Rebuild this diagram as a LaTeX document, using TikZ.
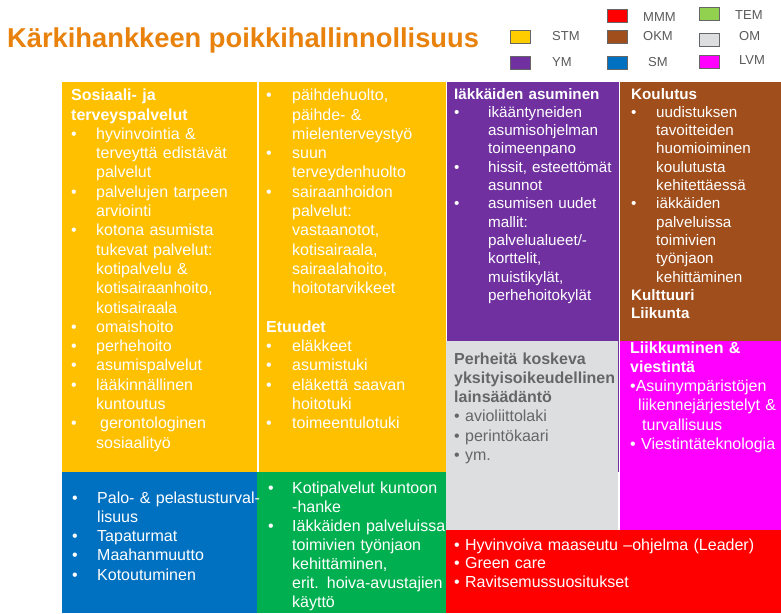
\documentclass[tikz,border=0pt]{standalone}
\usepackage{fontspec}
\setmainfont{Liberation Sans}
\usepackage{tikz}
\usetikzlibrary{positioning}

\definecolor{stm}{HTML}{FFC000}
\definecolor{stmkey}{HTML}{FFCC00}
\definecolor{ym}{HTML}{7030A0}
\definecolor{okm}{HTML}{A04E1C}
\definecolor{sm}{HTML}{0070C0}
\definecolor{tem}{HTML}{00B050}
\definecolor{temkey}{HTML}{92D050}
\definecolor{om}{HTML}{DDDEE0}
\definecolor{lvm}{HTML}{FF00FF}
\definecolor{mmm}{HTML}{FF0000}
\definecolor{titlecol}{HTML}{E8820C}
\definecolor{keytext}{HTML}{595959}
\definecolor{omtext}{HTML}{666666}

\newcommand{\itm}[2][25pt]{\hangindent=#1\hangafter=1\noindent\makebox[#1][l]{\textbullet}{\let\\\newline#2}}

\begin{document}
\begin{tikzpicture}[x=1pt, y=-1pt,
  txt/.style={anchor=base west, inner sep=0pt, text width=330pt, text=white,
    font=\fontsize{16}{19.3}\selectfont},
  small/.style={font=\fontsize{15.2}{18.3}\selectfont},
  keybox/.style={draw=black!60, line width=0.8pt, minimum width=20pt, minimum height=13pt, inner sep=0pt},
  keylabel/.style={anchor=west, inner sep=0pt, text=keytext, font=\fontsize{13}{15}\selectfont}
]
\useasboundingbox (0,0) rectangle (781,613);

\node[anchor=base west, inner sep=0pt, text=titlecol, font=\bfseries\fontsize{27.3}{30}\selectfont] (title) at (7,47) {Kärkihankkeen poikkihallinnollisuus};

\node[keybox, fill=stmkey] (kstm) at (520.5,37) {};
\node[keylabel] (lstm) at (552,36.5) {STM};
\node[keybox, fill=ym] (kym) at (520.5,63) {};
\node[keylabel] (lym) at (552,62.5) {YM};
\node[keybox, fill=mmm] (kmmm) at (617.5,16) {};
\node[keylabel] (lmmm) at (643,17.5) {MMM};
\node[keybox, fill=okm] (kokm) at (617.5,37) {};
\node[keylabel] (lokm) at (643,36) {OKM};
\node[keybox, fill=sm] (ksm) at (617.5,63) {};
\node[keylabel] (lsm) at (648,62.5) {SM};
\node[keybox, fill=temkey] (ktem) at (709,14) {};
\node[keylabel] (ltem) at (735,15) {TEM};
\node[keybox, fill=om] (kom) at (709,39.5) {};
\node[keylabel] (lom) at (739,36) {OM};
\node[keybox, fill=lvm] (klvm) at (709,62) {};
\node[keylabel] (llvm) at (739,60) {LVM};

\fill[stm] (62,82) rectangle (257,472);
\fill[stm] (258.5,82) rectangle (445.7,472);
\fill[ym] (446.5,82) rectangle (619.3,472);
\fill[okm] (620,82) rectangle (781,341);
\fill[om] (446.3,341) rectangle (617.7,530);
\fill[lvm] (620,341) rectangle (781,530);
\fill[sm] (62,472) rectangle (257,613);
\fill[tem] (257,472) rectangle (446.3,613);
\fill[mmm] (445.5,530) rectangle (781,613);

\node[txt] (sote) at (71,100.7) {\textbf{Sosiaali- ja}\\\textbf{terveyspalvelut}\par
\itm{hyvinvointia \&\\terveyttä edistävät\\palvelut}\par
\itm{palvelujen tarpeen\\arviointi}\par
\itm{kotona asumista\\tukevat palvelut:\\kotipalvelu \&\\kotisairaanhoito,\\kotisairaala}\par
\itm{omaishoito}\par
\itm{perhehoito}\par
\itm{asumispalvelut}\par
\itm{lääkinnällinen\\kuntoutus}\par
\itm{\hspace*{4pt}gerontologinen\\sosiaalityö}\par};

\node[txt] (etuudet) at (266,100.7) {\itm[26pt]{päihdehuolto,\\päihde- \&\\mielenterveystyö}\par
\itm[26pt]{suun\\terveydenhuolto}\par
\itm[26pt]{sairaanhoidon\\palvelut:\\vastaanotot,\\kotisairaala,\\sairaalahoito,\\hoitotarvikkeet}
\par\mbox{}\par\textbf{Etuudet}\par
\itm[26pt]{eläkkeet}\par
\itm[26pt]{asumistuki}\par
\itm[26pt]{eläkettä saavan\\hoitotuki}\par
\itm[26pt]{toimeentulotuki}\par};

\node[txt, small] (asuminen) at (454,99) {\textbf{Iäkkäiden asuminen}\par
\itm[34pt]{ikääntyneiden\\asumisohjelman\\toimeenpano}\par
\itm[34pt]{hissit, esteettömät\\asunnot}\par
\itm[34pt]{asumisen uudet\\mallit:\\palvelualueet/-\\korttelit,\\muistikylät,\\perhehoitokylät}\par};

\node[txt, small] (koulutus) at (631,99) {\textbf{Koulutus}\par
\itm{uudistuksen\\tavoitteiden\\huomioiminen\\koulutusta\\kehitettäessä}\par
\itm{iäkkäiden\\palveluissa\\toimivien\\työnjaon\\kehittäminen}\par
\textbf{Kulttuuri}\\\textbf{Liikunta}};

\node[txt, text=omtext] (laki) at (454,364) {\textbf{Perheitä koskeva}\\\textbf{yksityisoikeudellinen}\\\textbf{lainsäädäntö}\\
\textbullet\ avioliittolaki\\\textbullet\ perintökaari\\\textbullet\ ym.};

\node[txt] (liikenne) at (630,353) {\textbf{Liikkuminen \&}\\\textbf{viestintä}\\
\textbullet Asuinympäristöjen\\\hspace*{8pt}liikennejärjestelyt \&\\\hspace*{12pt}turvallisuus\\
\textbullet\ Viestintäteknologia};

\node[txt] (turva) at (72,503) {\itm{Palo- \& pelastusturval-\\lisuus}\par
\itm{Tapaturmat}\par
\itm{Maahanmuutto}\par
\itm{Kotoutuminen}\par};

\node[txt, font=\fontsize{16}{19}\selectfont] (kotipalvelu) at (268,493) {\itm[24pt]{Kotipalvelut kuntoon\\-hanke}\par
\itm[24pt]{Iäkkäiden palveluissa\\toimivien työnjaon\\kehittäminen,\\erit. hoiva-avustajien\\käyttö}\par};

\node[txt, font=\fontsize{16}{18.6}\selectfont] (maaseutu) at (454,550) {\textbullet\ Hyvinvoiva maaseutu –ohjelma (Leader)\\
\textbullet\ Green care\\\textbullet\ Ravitsemussuositukset};
\end{tikzpicture}
\end{document}
